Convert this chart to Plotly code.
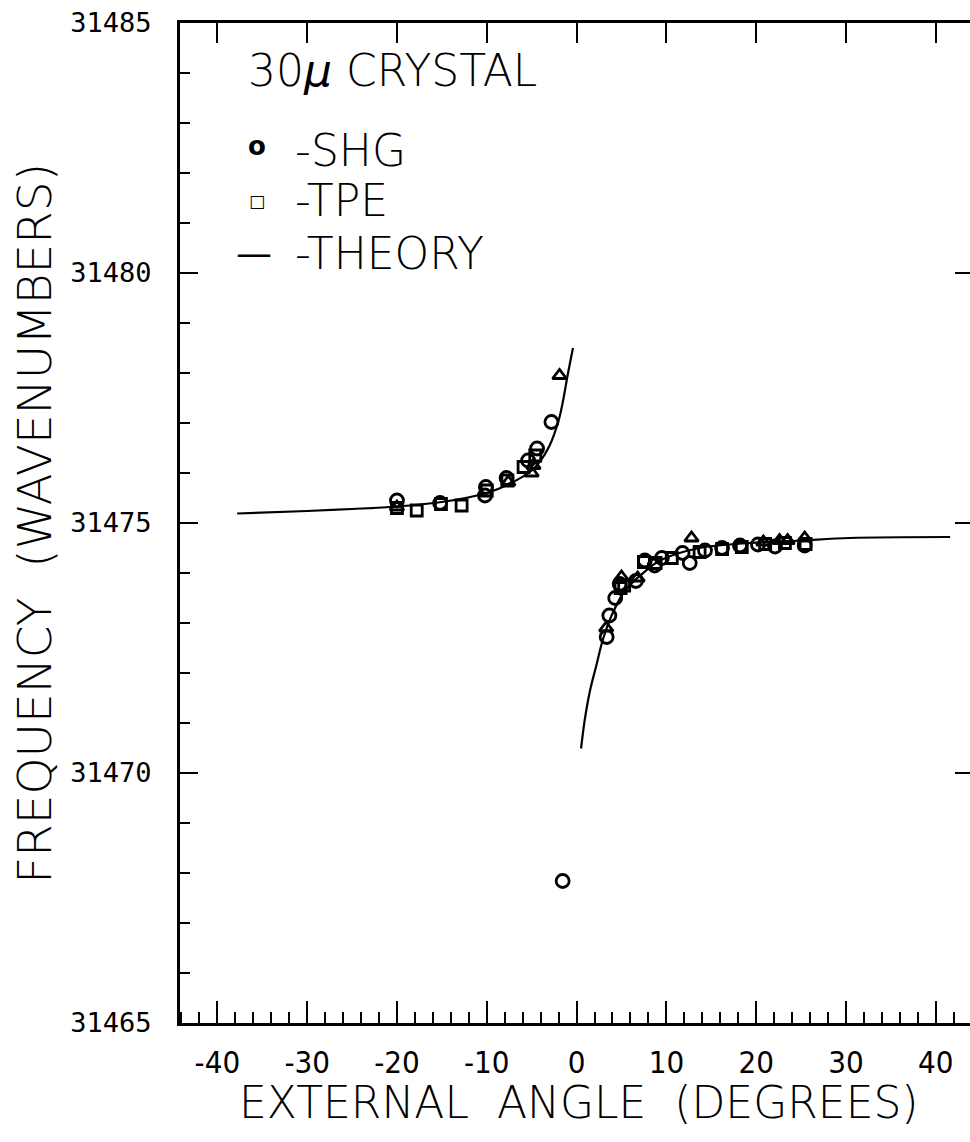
import plotly.graph_objects as go

# ---- data ----
shg_x = [-20.0, -15.2, -10.1, -10.2, -7.8, -5.4, -4.4, -2.8, -1.55, 3.35, 3.65, 4.3, 4.8, 6.6,
         7.6, 8.7, 9.5, 11.8, 12.6, 14.3, 16.2, 18.2, 20.2, 22.1, 25.4]
shg_y = [31475.45, 31475.40, 31475.72, 31475.55, 31475.90, 31476.25, 31476.49, 31477.02, 31467.84,
         31472.72, 31473.15, 31473.50, 31473.78, 31473.84, 31474.25, 31474.15, 31474.30, 31474.40,
         31474.20, 31474.45, 31474.50, 31474.55, 31474.57, 31474.53, 31474.55]

tpe_x = [-20.0, -17.8, -15.1, -12.8, -10.0, -7.7, -5.9, -4.6, 4.9, 5.3, 7.5, 8.8, 10.6, 13.7,
         16.2, 18.4, 21.0, 23.2, 25.5]
tpe_y = [31475.30, 31475.25, 31475.38, 31475.35, 31475.65, 31475.85, 31476.12, 31476.35, 31473.70,
         31473.75, 31474.22, 31474.20, 31474.30, 31474.42, 31474.48, 31474.52, 31474.58, 31474.60,
         31474.58]

tri_x = [-20.0, -7.6, -5.0, -4.8, -1.9, 3.3, 5.0, 6.8, 12.8, 20.8, 22.6, 23.5, 25.4]
tri_y = [31475.32, 31475.82, 31476.00, 31476.15, 31477.95, 31472.90, 31473.92, 31473.90,
         31474.70, 31474.62, 31474.65, 31474.65, 31474.70]

theory_left_x = [-37.8, -30, -25, -20, -15, -10, -7.5, -5, -4, -3, -2, -1.5, -1, -0.4]
theory_left_y = [31475.19, 31475.24, 31475.28, 31475.33, 31475.42, 31475.60, 31475.78, 31476.05,
                 31476.25, 31476.55, 31477.05, 31477.45, 31477.95, 31478.50]

theory_right_x = [0.5, 0.9, 1.5, 2.2, 2.9, 3.9, 5.4, 7.1, 9.3, 13.7, 19.3, 25, 30.4, 41.6]
theory_right_y = [31470.49, 31471.05, 31471.65, 31472.15, 31472.65, 31473.15, 31473.65, 31473.95,
                  31474.25, 31474.50, 31474.60, 31474.65, 31474.70, 31474.72]

x_major_ticks = [-40, -30, -20, -10, 0, 10, 20, 30, 40]
x_tick_text = ["-40", "-30", "-20", "-10", "0", "10", "20", "30", "40"]
y_major_ticks = [31465, 31470, 31475, 31480, 31485]
y_tick_text = ["31465", "31470", "31475", "31480", "31485"]
y_right_ticks = [31470, 31475, 31480]

X_RANGE = [-44.16, 43.81]
Y_RANGE = [31465, 31485]

fig = go.Figure()

fig.add_trace(go.Scatter(x=theory_left_x, y=theory_left_y, mode="lines",
                         line=dict(color="black", width=2.2, shape="spline"), showlegend=False))
fig.add_trace(go.Scatter(x=theory_right_x, y=theory_right_y, mode="lines",
                         line=dict(color="black", width=2.2, shape="spline"), showlegend=False))
fig.add_trace(go.Scatter(x=shg_x, y=shg_y, mode="markers", name="SHG",
                         marker=dict(symbol="circle-open", size=13, color="black",
                                     line=dict(width=2.8, color="black")), showlegend=False))
fig.add_trace(go.Scatter(x=tpe_x, y=tpe_y, mode="markers", name="TPE",
                         marker=dict(symbol="square-open", size=11, color="black",
                                     line=dict(width=2.8, color="black")), showlegend=False))
fig.add_trace(go.Scatter(x=tri_x, y=tri_y, mode="markers", name="",
                         marker=dict(symbol="triangle-up-open", size=12, color="black",
                                     line=dict(width=2.8, color="black")), showlegend=False))
# invisible trace to anchor the overlay (top / right tick) axes
fig.add_trace(go.Scatter(x=theory_right_x, y=theory_right_y, xaxis="x2", yaxis="y2",
                         mode="lines", line=dict(color="rgba(0,0,0,0)"), hoverinfo="skip",
                         showlegend=False))

tick_font_x = dict(family="Liberation Sans Narrow, DejaVu Sans Condensed, Roboto Condensed, DejaVu Sans",
                   size=31, color="black")
tick_font_y = dict(family="DejaVu Sans Mono", size=27, color="black")
title_font = dict(family="DejaVu Sans", size=44, color="black", weight=200)

fig.update_layout(
    width=970, height=1142,
    margin=dict(l=180, r=0, t=23, b=119),
    paper_bgcolor="white", plot_bgcolor="white",
    xaxis=dict(range=X_RANGE, tickvals=x_major_ticks, ticktext=x_tick_text,
               ticks="inside", ticklen=22, tickwidth=2, tickcolor="black",
               minor=dict(ticks="inside", dtick=2, tick0=0, ticklen=11, tickwidth=2,
                          tickcolor="black", showgrid=False),
               showline=True, linecolor="black", linewidth=3, mirror=True,
               showgrid=False, zeroline=False, tickfont=tick_font_x,
               ticklabelstandoff=10, fixedrange=True),
    yaxis=dict(range=Y_RANGE, tickvals=y_major_ticks, ticktext=y_tick_text,
               ticks="inside", ticklen=18, tickwidth=2, tickcolor="black",
               minor=dict(ticks="inside", dtick=1, tick0=31465, ticklen=10, tickwidth=2,
                          tickcolor="black", showgrid=False),
               showline=True, linecolor="black", linewidth=3, mirror=False,
               showgrid=False, zeroline=False, tickfont=tick_font_y,
               ticklabelstandoff=20, fixedrange=True),
    xaxis2=dict(range=X_RANGE, overlaying="x", side="top", anchor="y2",
                tickvals=x_major_ticks, ticks="inside", ticklen=20, tickwidth=2,
                tickcolor="black", showticklabels=False, showline=False, showgrid=False,
                zeroline=False, fixedrange=True),
    yaxis2=dict(range=Y_RANGE, overlaying="y", side="right", anchor="x2",
                tickvals=y_right_ticks, ticks="inside", ticklen=15, tickwidth=2,
                tickcolor="black", showticklabels=False, showline=False, showgrid=False,
                zeroline=False, fixedrange=True),
    showlegend=False,
)

# axis titles
fig.add_annotation(text="EXTERNAL  ANGLE  (DEGREES)", xref="paper", yref="paper",
                   x=0.505, y=-0.079, xanchor="center", yanchor="middle", showarrow=False,
                   font=title_font)
fig.add_annotation(text="FREQUENCY  (WAVENUMBERS)", xref="paper", yref="paper",
                   x=-0.185, y=0.5, xanchor="center", yanchor="middle", textangle=-90,
                   showarrow=False, font=dict(family="DejaVu Sans", size=47, color="black", weight=200))

# in-plot legend
legend_font = dict(family="DejaVu Sans", size=44, color="black", weight=200)
fig.add_annotation(text="30<i>μ</i> CRYSTAL", x=-36.8, y=31484.05, xanchor="left",
                   yanchor="middle", showarrow=False, font=legend_font)
fig.add_annotation(text="<b>o</b>", x=-35.6, y=31482.55, xanchor="center", yanchor="middle",
                   showarrow=False, font=dict(family="DejaVu Sans", size=26, color="black"))
fig.add_annotation(text="-SHG", x=-31.6, y=31482.45, xanchor="left", yanchor="middle",
                   showarrow=False, font=legend_font)
fig.add_annotation(text="<b>□</b>", x=-35.6, y=31481.45, xanchor="center", yanchor="middle",
                   showarrow=False, font=dict(family="DejaVu Sans", size=17, color="black"))
fig.add_annotation(text="-TPE", x=-31.6, y=31481.45, xanchor="left", yanchor="middle",
                   showarrow=False, font=legend_font)
fig.add_annotation(text="—", x=-35.9, y=31480.4, xanchor="center", yanchor="middle",
                   showarrow=False, font=dict(family="DejaVu Sans", size=36, color="black"))
fig.add_annotation(text="-THEORY", x=-31.6, y=31480.4, xanchor="left", yanchor="middle",
                   showarrow=False, font=legend_font)

fig.write_html("out.html")
